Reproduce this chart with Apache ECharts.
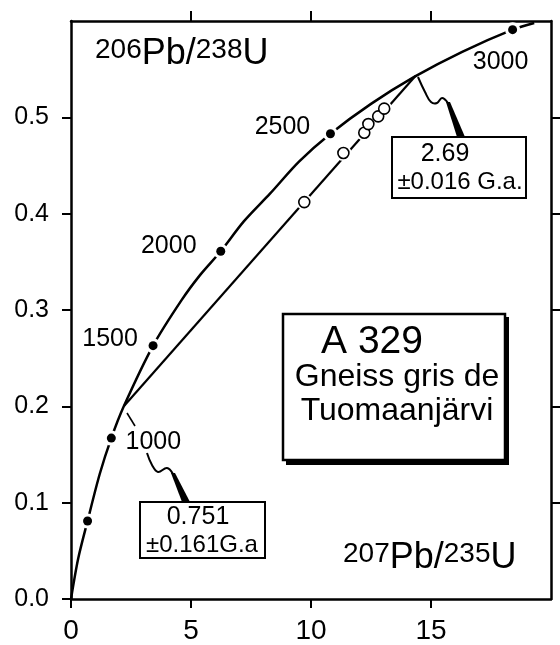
<!DOCTYPE html>
<html>
<head>
<meta charset="utf-8">
<script src="https://cdn.jsdelivr.net/npm/echarts@6/dist/echarts.min.js"></script>
<style>
html,body{margin:0;padding:0;background:#fff;}
#chart{width:560px;height:645px;}
</style>
</head>
<body>
<div id="chart"></div>
<script>
// ages (Ma) marked on the concordia
const ageLabels = ['500', '1000', '1500', '2000', '2500', '3000'];
const ageX = [0.69, 1.68, 3.42, 6.24, 10.81, 18.4];
const ageY = [0.081, 0.167, 0.263, 0.361, 0.483, 0.591];

// concordia curve
const curveX = [0, 0.3, 0.69, 1.2, 1.68, 2.2, 3.42, 4.6, 5.4, 6.24, 7.2, 8.3, 9.5, 10.81, 12.5, 14.3, 16.3, 18.4, 19.3];
const curveY = [0, 0.042, 0.081, 0.13, 0.167, 0.2, 0.263, 0.31, 0.337, 0.361, 0.392, 0.421, 0.454, 0.483, 0.514, 0.542, 0.568, 0.591, 0.598];

// discordia : lower and upper intercepts
const interceptX = [2.2, 14.35];
const interceptY = [0.2, 0.543];

// zircon fractions (open circles)
const sampleX = [9.72, 11.35, 12.22, 12.39, 12.8, 13.05];
const sampleY = [0.412, 0.463, 0.484, 0.493, 0.501, 0.509];

const xTicks = [0, 5, 10, 15];
const xTopTicks = [5, 10, 15];
const yTicks = [0, 0.1, 0.2, 0.3, 0.4, 0.5];
const yRightTicks = [0.1, 0.2, 0.3, 0.4, 0.5];

// where each age label sits relative to its dot
const ageLabelOffset = [[0, 0], [42, 4], [-43, -7], [-52, -5], [-48, -7], [-12, 32]];

const FONT = '"Liberation Sans", Arial, sans-serif';
const BLACK = '#000';

const pair = (xs, ys) => xs.map((x, i) => [x, ys[i]]);

let chart = echarts.init(document.getElementById('chart'));

const frame = { show: true, onZero: false, lineStyle: { color: BLACK, width: 2.5 } };

// rich styles for the isotope ratio titles
const isoRich = {
  s: { fontSize: 28, fontFamily: FONT, verticalAlign: 'top', lineHeight: 28 },
  b: { fontSize: 36, fontFamily: FONT, verticalAlign: 'top', lineHeight: 42 }
};

let options = {
  animation: false,
  backgroundColor: '#fff',
  grid: { left: 71, right: 9, top: 21, bottom: 46 },
  xAxis: [
    {
      type: 'value', min: 0, max: 20, interval: 5, position: 'bottom',
      axisLine: frame,
      axisTick: { show: true, customValues: xTicks, length: 9, lineStyle: { color: BLACK, width: 2 } },
      axisLabel: { customValues: xTicks, fontSize: 28, margin: 18, color: BLACK, fontFamily: FONT },
      splitLine: { show: false }
    },
    {
      type: 'value', min: 0, max: 20, interval: 5, position: 'top',
      axisLine: frame,
      axisTick: { show: true, customValues: xTopTicks, length: 10, lineStyle: { color: BLACK, width: 2 } },
      axisLabel: { show: false },
      splitLine: { show: false }
    }
  ],
  yAxis: [
    {
      type: 'value', min: 0, max: 0.6, interval: 0.1, position: 'left',
      axisLine: frame,
      axisTick: { show: true, customValues: yTicks, length: 9, lineStyle: { color: BLACK, width: 2 } },
      axisLabel: {
        customValues: yTicks, fontSize: 25, margin: 22, color: BLACK, fontFamily: FONT,
        formatter: v => v.toFixed(1)
      },
      splitLine: { show: false }
    },
    {
      type: 'value', min: 0, max: 0.6, interval: 0.1, position: 'right',
      axisLine: frame,
      axisTick: { show: true, customValues: yRightTicks, length: 9, lineStyle: { color: BLACK, width: 2 } },
      axisLabel: { show: false },
      splitLine: { show: false }
    }
  ],
  series: [
    {
      name: 'concordia', type: 'line', z: 2,
      data: pair(curveX, curveY),
      smooth: 0.3, showSymbol: false, silent: true,
      lineStyle: { color: BLACK, width: 2.5 }
    },
    {
      name: 'discordia', type: 'line', z: 2,
      data: pair(interceptX, interceptY),
      showSymbol: false, silent: true,
      lineStyle: { color: BLACK, width: 2.2 }
    },
    {
      // white gap around the age dots
      type: 'scatter', z: 3, silent: true,
      data: pair(ageX, ageY), symbolSize: 15,
      itemStyle: { color: '#fff', opacity: 1 }
    },
    {
      // white gap around the open circles
      type: 'scatter', z: 3, silent: true,
      data: pair(sampleX, sampleY), symbolSize: 16,
      itemStyle: { color: '#fff', opacity: 1 }
    },
    {
      name: 'ages', type: 'scatter', z: 4,
      data: ageX.map((x, i) => ({
        value: [x, ageY[i]], name: ageLabels[i],
        label: { show: i > 0, offset: ageLabelOffset[i] }
      })),
      symbolSize: 9,
      itemStyle: { color: BLACK, opacity: 1 },
      label: { position: 'inside', formatter: '{b}', fontSize: 25, color: BLACK, opacity: 1, fontFamily: FONT }
    },
    {
      name: 'zircons', type: 'scatter', z: 4,
      data: pair(sampleX, sampleY),
      symbol: 'circle', symbolSize: 11,
      itemStyle: { color: '#fff', borderColor: BLACK, borderWidth: 1.6, opacity: 1 }
    }
  ],
  graphic: [
    // axis titles
    {
      type: 'text', left: 95, top: 36,
      style: { text: '{s|206}{b|Pb/}{s|238}{b|U}', fill: BLACK, rich: isoRich }
    },
    {
      type: 'text', left: 343, top: 540,
      style: { text: '{s|207}{b|Pb/}{s|235}{b|U}', fill: BLACK, rich: isoRich }
    },
    // sample box with shadow
    { type: 'rect', shape: { x: 286, y: 317, width: 223, height: 148 }, style: { fill: BLACK }, z: 10 },
    { type: 'rect', shape: { x: 283, y: 314, width: 222, height: 146 }, style: { fill: '#fff', stroke: BLACK, lineWidth: 2.5 }, z: 11 },
    { type: 'text', x: 372, y: 342, z: 12, style: { text: 'A 329', fontSize: 39, fontFamily: FONT, fill: BLACK, align: 'center', verticalAlign: 'middle' } },
    { type: 'text', x: 397, y: 377, z: 12, style: { text: 'Gneiss gris de', fontSize: 32, fontFamily: FONT, fill: BLACK, align: 'center', verticalAlign: 'middle' } },
    { type: 'text', x: 397, y: 411, z: 12, style: { text: 'Tuomaanjärvi', fontSize: 32, fontFamily: FONT, fill: BLACK, align: 'center', verticalAlign: 'middle' } },

    // upper intercept annotation
    { type: 'polyline', z: 10, shape: { points: [[418, 77], [425, 92], [431, 102], [437, 103], [442, 98], [448, 103]], smooth: 0.4 }, style: { stroke: BLACK, lineWidth: 2, fill: null } },
    { type: 'polygon', z: 10, shape: { points: [[446, 102], [450, 102], [465, 137], [457, 137]] }, style: { fill: BLACK } },
    { type: 'rect', z: 10, shape: { x: 392, y: 137, width: 134, height: 61 }, style: { fill: '#fff', stroke: BLACK, lineWidth: 2 } },
    { type: 'text', x: 445, y: 154, z: 11, style: { text: '2.69', fontSize: 25, fontFamily: FONT, fill: BLACK, align: 'center', verticalAlign: 'middle' } },
    { type: 'text', x: 460, y: 182, z: 11, style: { text: '±0.016 G.a.', fontSize: 24, fontFamily: FONT, fill: BLACK, align: 'center', verticalAlign: 'middle' } },

    // lower intercept annotation
    { type: 'line', z: 10, shape: { x1: 127, y1: 413, x2: 135, y2: 426 }, style: { stroke: BLACK, lineWidth: 1.6 } },
    { type: 'polyline', z: 10, shape: { points: [[147, 453], [152, 465], [158, 472], [167, 468], [173, 474]], smooth: 0.4 }, style: { stroke: BLACK, lineWidth: 2, fill: null } },
    { type: 'polygon', z: 10, shape: { points: [[171, 473], [175, 473], [190, 502], [182, 502]] }, style: { fill: BLACK } },
    { type: 'rect', z: 10, shape: { x: 140, y: 502, width: 125, height: 56 }, style: { fill: '#fff', stroke: BLACK, lineWidth: 2 } },
    { type: 'text', x: 198, y: 517, z: 11, style: { text: '0.751', fontSize: 25, fontFamily: FONT, fill: BLACK, align: 'center', verticalAlign: 'middle' } },
    { type: 'text', x: 202, y: 545, z: 11, style: { text: '±0.161G.a', fontSize: 24, fontFamily: FONT, fill: BLACK, align: 'center', verticalAlign: 'middle' } }
  ]
};

chart.setOption(options);
</script>
</body>
</html>
